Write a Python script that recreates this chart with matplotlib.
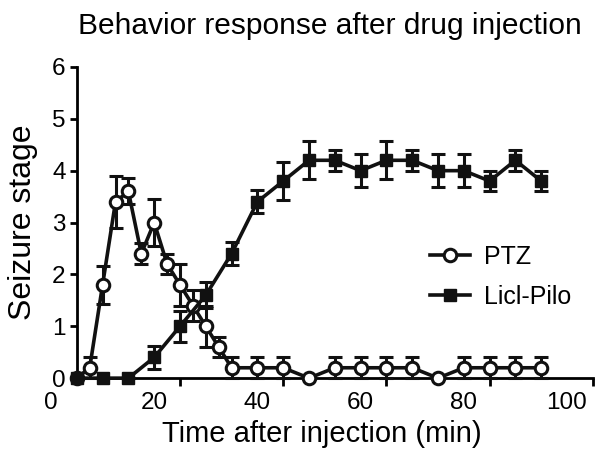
import numpy as np
import matplotlib
matplotlib.use("Agg")
import matplotlib.pyplot as plt
from matplotlib.lines import Line2D

plt.rcParams['font.family'] = ['Liberation Sans', 'DejaVu Sans']

# PTZ group (2.5 min steps early, then 5 min)
ptz_t = [5, 7.5, 10, 12.5, 15, 17.5, 20, 22.5, 25, 27.5, 30, 32.5, 35,
         40, 45, 50, 55, 60, 65, 70, 75, 80, 85, 90, 95]
ptz_mean = [0, 0.2, 1.8, 3.4, 3.6, 2.4, 3.0, 2.2, 1.8, 1.4, 1.0, 0.6, 0.2,
            0.2, 0.2, 0, 0.2, 0.2, 0.2, 0.2, 0, 0.2, 0.2, 0.2, 0.2]
ptz_sem = [0, 0.2, 0.37, 0.5, 0.25, 0.2, 0.45, 0.2, 0.4, 0.3, 0.4, 0.2, 0.2,
           0.2, 0.2, 0, 0.2, 0.2, 0.2, 0.2, 0, 0.2, 0.2, 0.2, 0.2]

# LiCl-Pilocarpine group
pilo_t = [5, 10, 15, 20, 25, 30, 35, 40, 45, 50, 55, 60, 65, 70, 75, 80, 85, 90, 95]
pilo_mean = [0, 0, 0, 0.4, 1.0, 1.6, 2.4, 3.4, 3.8, 4.2, 4.2, 4.0, 4.2, 4.2,
             4.0, 4.0, 3.8, 4.2, 3.8]
pilo_sem = [0, 0, 0, 0.22, 0.3, 0.25, 0.22, 0.22, 0.37, 0.37, 0.2, 0.32, 0.37,
            0.2, 0.32, 0.32, 0.2, 0.2, 0.2]

tick_marks = [25, 45, 65, 85, 105]
tick_labels = [0, 20, 40, 60, 80, 100]

fig = plt.figure(figsize=(6, 4.68), dpi=100)
ax = fig.add_axes([0.085, 0.192, 0.903, 0.665])

lw = 2.6
ptz_style = dict(color='#111111', lw=lw, marker='o', ms=9, mfc='white',
                 mec='#111111', mew=2.2)
pilo_style = dict(color='#111111', lw=lw, marker='s', ms=8.5, mfc='#111111',
                  mec='#111111')
e1 = ax.errorbar(ptz_t, ptz_mean, yerr=ptz_sem, capsize=5, capthick=2.2,
                 elinewidth=2.2, zorder=3, **ptz_style)
e2 = ax.errorbar(pilo_t, pilo_mean, yerr=pilo_sem, capsize=5, capthick=2.2,
                 elinewidth=2.2, zorder=4, **pilo_style)
for e in (e1, e2):
    for art in e.get_children():
        art.set_clip_on(False)

ax.set_xlim(0, 105)
ax.set_ylim(0, 6)
ax.spines['top'].set_visible(False)
ax.spines['right'].set_visible(False)
ax.spines['left'].set_position(('data', 5))
ax.spines['bottom'].set_bounds(5, 105)
ax.spines['left'].set_linewidth(2)
ax.spines['bottom'].set_linewidth(2)

ax.set_xticks(tick_marks)
ax.set_xticklabels([''] * len(tick_marks))
ax.set_xticks(tick_labels, minor=True)
ax.set_xticklabels([str(v) for v in tick_labels], minor=True)
ax.tick_params(axis='x', which='major', direction='out', length=6, width=2)
ax.tick_params(axis='x', which='minor', length=0, pad=10, labelsize=17.5)
ax.set_yticks(range(0, 7))
ax.tick_params(axis='y', direction='out', length=5, width=2, pad=3, labelsize=17.5)

ax.set_xlabel('Time after injection (min)', fontsize=21, labelpad=4)
ax.set_ylabel('Seizure stage', fontsize=23, labelpad=10)
ax.set_title('Behavior response after drug injection', fontsize=21.5, pad=24, x=0.515)

handles = [Line2D([], [], **ptz_style), Line2D([], [], **pilo_style)]
ax.legend(handles, ['PTZ', 'Licl-Pilo'], loc='center left',
          bbox_to_anchor=(0.70, 0.325), frameon=False,
          fontsize=18, handlelength=1.6, handletextpad=0.55, labelspacing=0.65,
          borderpad=0, borderaxespad=0)

fig.savefig('out.png', dpi=100)
